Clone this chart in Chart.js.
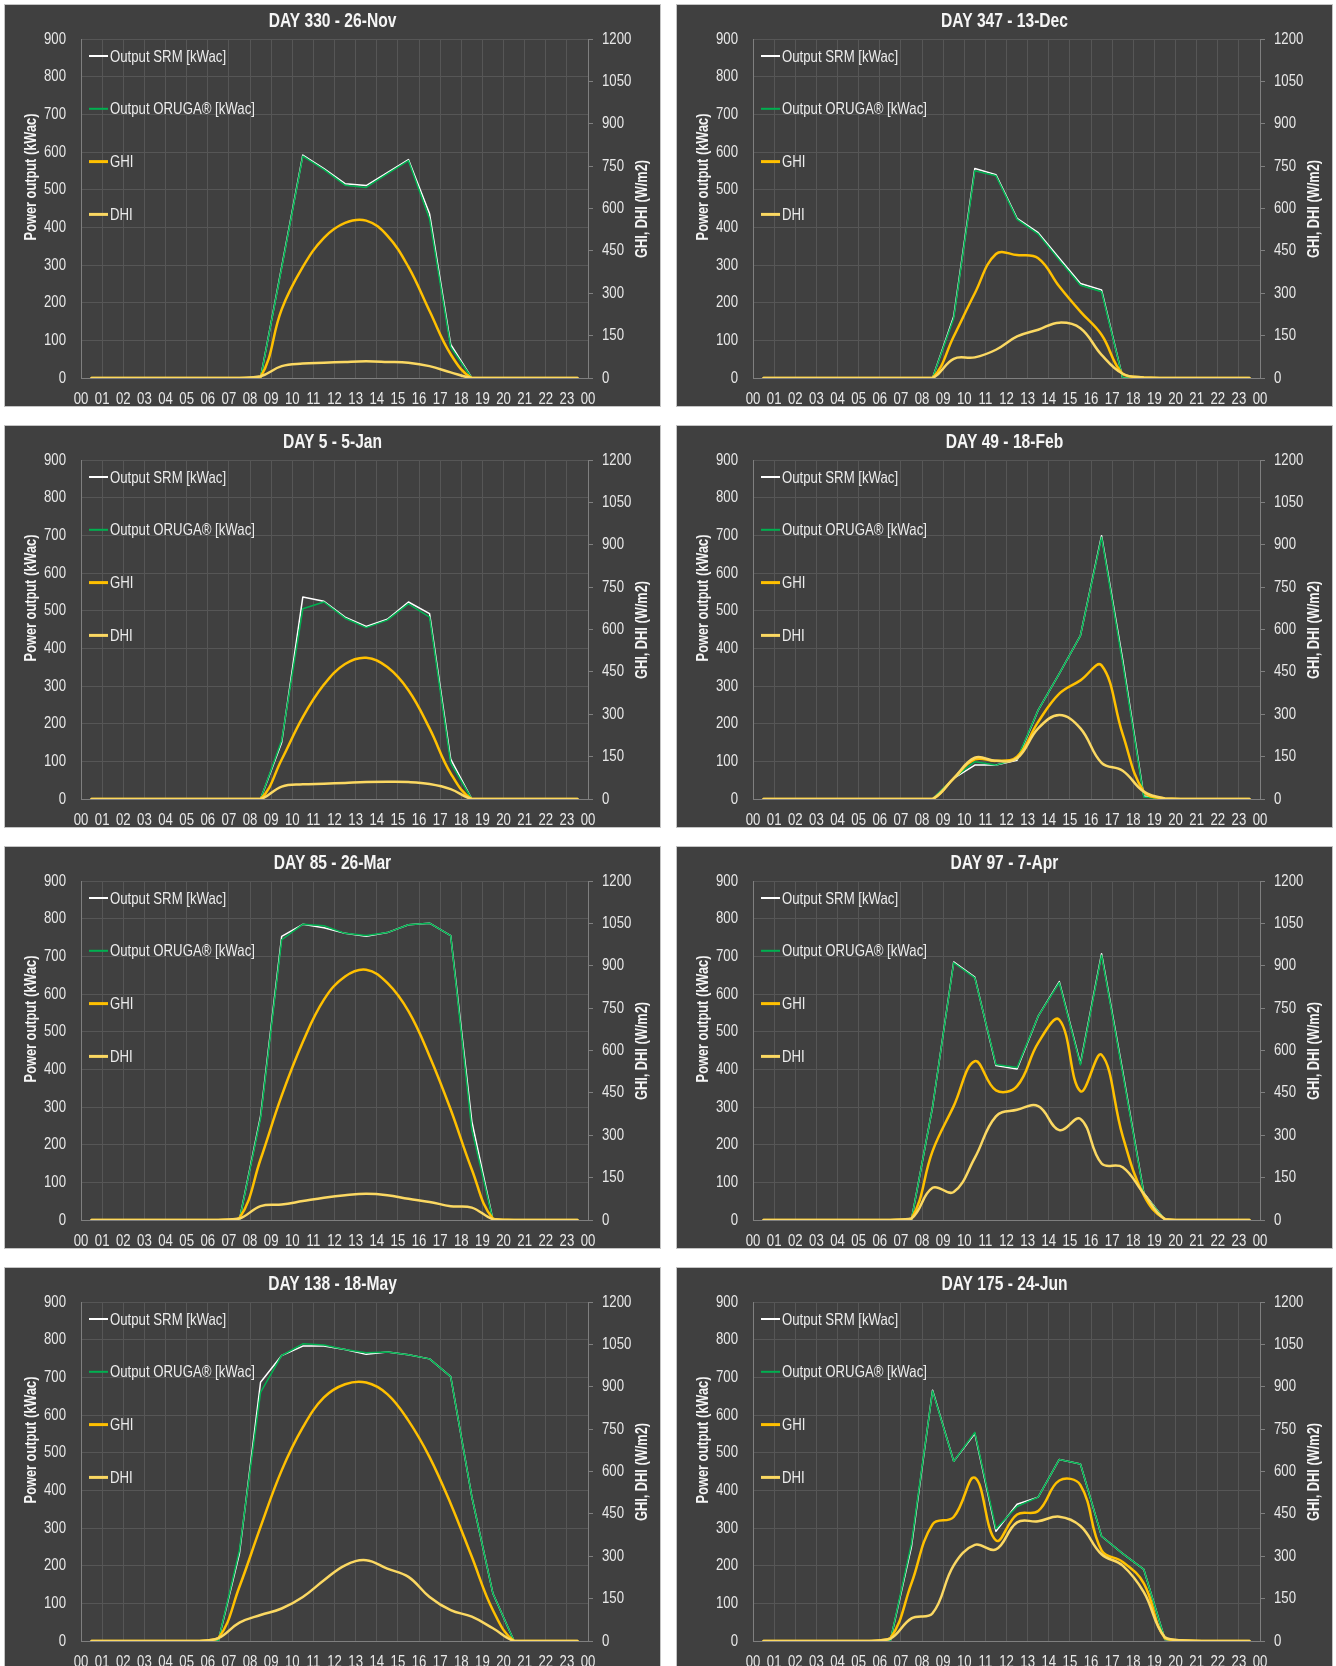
<!DOCTYPE html>
<html>
<head>
<meta charset="utf-8">
<title>Daily output SRM vs ORUGA</title>
<script src="https://cdn.jsdelivr.net/npm/chart.js@4.4.1/dist/chart.umd.min.js"></script>
<style>
  html, body { margin: 0; padding: 0; background: #ffffff; }
  body { width: 1336px; height: 1666px; overflow: hidden; position: relative; }
  .panel {
    position: absolute;
    width: 655px;
    height: 401px;
    border: 1px solid #c4c4c4;
    background: #404040;
  }
  .panel canvas { display: block; }
</style>
</head>
<body>
<script>
/* =========================================================
   DATA (hourly values, one point per hour at half past)
========================================================= */
const hourMid = [0.5, 1.5, 2.5, 3.5, 4.5, 5.5, 6.5, 7.5, 8.5, 9.5, 10.5, 11.5,
                 12.5, 13.5, 14.5, 15.5, 16.5, 17.5, 18.5, 19.5, 20.5, 21.5, 22.5, 23.5];
const hourLabels = ["00", "01", "02", "03", "04", "05", "06", "07", "08", "09", "10", "11", "12",
                    "13", "14", "15", "16", "17", "18", "19", "20", "21", "22", "23", "00"];
const powerTicks = [0, 100, 200, 300, 400, 500, 600, 700, 800, 900];
const irrTicks = [0, 150, 300, 450, 600, 750, 900, 1050, 1200];
const seriesNames = ["Output SRM [kWac]", "Output ORUGA® [kWac]", "GHI", "DHI"];

// DAY 330 - 26-Nov
const srm330   = [0, 0, 0, 0, 0, 0, 0, 0, 0, 295, 592, 556, 516, 511, 545, 580, 436, 89, 0, 0, 0, 0, 0, 0];
const oruga330 = [0, 0, 0, 0, 0, 0, 0, 0, 0, 292, 589, 553, 512, 506, 542, 577, 422, 82, 0, 0, 0, 0, 0, 0];
const ghi330   = [0, 0, 0, 0, 0, 0, 0, 0, 4, 243, 393, 496, 549, 557, 504, 393, 237, 84, 0, 0, 0, 0, 0, 0];
const dhi330   = [0, 0, 0, 0, 0, 0, 0, 0, 6, 42, 51, 54, 57, 59, 57, 54, 42, 20, 0, 0, 0, 0, 0, 0];

// DAY 347 - 13-Dec
const srm347   = [0, 0, 0, 0, 0, 0, 0, 0, 0, 163, 556, 540, 424, 386, 318, 251, 234, 0, 0, 0, 0, 0, 0, 0];
const oruga347 = [0, 0, 0, 0, 0, 0, 0, 0, 0, 158, 550, 537, 421, 382, 313, 246, 229, 0, 0, 0, 0, 0, 0, 0];
const ghi347   = [0, 0, 0, 0, 0, 0, 0, 0, 0, 147, 300, 439, 435, 424, 324, 235, 153, 15, 2, 0, 0, 0, 0, 0];
const dhi347   = [0, 0, 0, 0, 0, 0, 0, 0, 0, 68, 73, 100, 147, 171, 196, 176, 82, 15, 2, 0, 0, 0, 0, 0];

// DAY 5 - 5-Jan
const srm5   = [0, 0, 0, 0, 0, 0, 0, 0, 0, 150, 536, 525, 483, 458, 477, 523, 492, 106, 0, 0, 0, 0, 0, 0];
const oruga5 = [0, 0, 0, 0, 0, 0, 0, 0, 0, 156, 505, 523, 480, 455, 475, 518, 483, 95, 0, 0, 0, 0, 0, 0];
const ghi5   = [0, 0, 0, 0, 0, 0, 0, 0, 0, 140, 290, 405, 478, 500, 467, 385, 250, 91, 0, 0, 0, 0, 0, 0];
const dhi5   = [0, 0, 0, 0, 0, 0, 0, 0, 0, 44, 52, 54, 57, 60, 61, 60, 53, 35, 0, 0, 0, 0, 0, 0];

// DAY 49 - 18-Feb
const srm49   = [0, 0, 0, 0, 0, 0, 0, 0, 0, 55, 90, 90, 103, 236, 333, 434, 699, 370, 8, 0, 0, 0, 0, 0];
const oruga49 = [0, 0, 0, 0, 0, 0, 0, 0, 0, 55, 99, 90, 106, 236, 333, 434, 695, 360, 5, 0, 0, 0, 0, 0];
const ghi49   = [0, 0, 0, 0, 0, 0, 0, 0, 0, 73, 140, 135, 150, 273, 373, 420, 473, 230, 26, 2, 0, 0, 0, 0];
const dhi49   = [0, 0, 0, 0, 0, 0, 0, 0, 0, 73, 146, 135, 144, 250, 297, 250, 128, 100, 26, 2, 0, 0, 0, 0];

// DAY 85 - 26-Mar
const srm85   = [0, 0, 0, 0, 0, 0, 0, 0, 276, 753, 785, 776, 761, 753, 763, 784, 788, 755, 262, 0, 0, 0, 0, 0];
const oruga85 = [0, 0, 0, 0, 0, 0, 0, 0, 270, 744, 785, 781, 761, 755, 763, 784, 788, 755, 240, 0, 0, 0, 0, 0];
const ghi85   = [0, 0, 0, 0, 0, 0, 0, 7, 215, 440, 630, 780, 862, 886, 839, 739, 580, 391, 179, 5, 0, 0, 0, 0];
const dhi85   = [0, 0, 0, 0, 0, 0, 0, 5, 49, 55, 67, 79, 88, 93, 88, 75, 64, 49, 44, 3, 0, 0, 0, 0];

// DAY 97 - 7-Apr
const srm97   = [0, 0, 0, 0, 0, 0, 0, 0, 300, 685, 645, 410, 401, 541, 633, 415, 707, 395, 72, 0, 0, 0, 0, 0];
const oruga97 = [0, 0, 0, 0, 0, 0, 0, 0, 300, 683, 643, 413, 405, 541, 630, 412, 703, 390, 70, 0, 0, 0, 0, 0];
const ghi97   = [0, 0, 0, 0, 0, 0, 0, 5, 244, 403, 562, 459, 474, 627, 709, 456, 585, 297, 88, 3, 0, 0, 0, 0];
const dhi97   = [0, 0, 0, 0, 0, 0, 0, 5, 114, 99, 220, 367, 390, 403, 318, 358, 200, 187, 93, 3, 0, 0, 0, 0];

// DAY 138 - 18-May
const srm138   = [0, 0, 0, 0, 0, 0, 0, 232, 687, 758, 783, 783, 774, 761, 767, 760, 749, 702, 383, 126, 0, 0, 0, 0];
const oruga138 = [0, 0, 0, 0, 0, 0, 0, 241, 660, 758, 789, 786, 774, 765, 767, 760, 749, 702, 383, 126, 0, 0, 0, 0];
const ghi138   = [0, 0, 0, 0, 0, 0, 10, 192, 404, 604, 756, 862, 909, 915, 874, 780, 651, 486, 298, 109, 0, 0, 0, 0];
const dhi138   = [0, 0, 0, 0, 0, 0, 10, 65, 92, 115, 156, 215, 268, 286, 256, 227, 156, 109, 86, 45, 0, 0, 0, 0];

// DAY 175 - 24-Jun
const srm175   = [0, 0, 0, 0, 0, 0, 0, 250, 666, 477, 551, 291, 363, 382, 482, 470, 278, 232, 190, 4, 0, 0, 0, 0];
const oruga175 = [0, 0, 0, 0, 0, 0, 0, 259, 664, 477, 554, 298, 357, 382, 482, 470, 278, 232, 190, 4, 0, 0, 0, 0];
const ghi175   = [0, 0, 0, 0, 0, 0, 10, 204, 413, 439, 578, 356, 448, 460, 568, 552, 321, 280, 204, 10, 2, 0, 0, 0];
const dhi175   = [0, 0, 0, 0, 0, 0, 8, 80, 98, 268, 340, 324, 420, 424, 440, 407, 307, 267, 173, 13, 2, 0, 0, 0];

const panels = [
    { title: "DAY 330 - 26-Nov", srm: srm330, oruga: oruga330, ghi: ghi330, dhi: dhi330 },
    { title: "DAY 347 - 13-Dec", srm: srm347, oruga: oruga347, ghi: ghi347, dhi: dhi347 },
    { title: "DAY 5 - 5-Jan",    srm: srm5,   oruga: oruga5,   ghi: ghi5,   dhi: dhi5 },
    { title: "DAY 49 - 18-Feb",  srm: srm49,  oruga: oruga49,  ghi: ghi49,  dhi: dhi49 },
    { title: "DAY 85 - 26-Mar",  srm: srm85,  oruga: oruga85,  ghi: ghi85,  dhi: dhi85 },
    { title: "DAY 97 - 7-Apr",   srm: srm97,  oruga: oruga97,  ghi: ghi97,  dhi: dhi97 },
    { title: "DAY 138 - 18-May", srm: srm138, oruga: oruga138, ghi: ghi138, dhi: dhi138 },
    { title: "DAY 175 - 24-Jun", srm: srm175, oruga: oruga175, ghi: ghi175, dhi: dhi175 }
];


/* =========================================================
   LOOK
========================================================= */
// no narrow font installed: Liberation Sans squeezed sideways ~ Arial Narrow
const FONT = "'Liberation Sans', Arial, sans-serif";
const SQUEEZE = 0.8;
const colSRM = "#ffffff";
const colORUGA = "#00b050";
const colGHI = "#ffc000";
const colDHI = "#fbd862";
const colGrid = "#565656";
const colAxis = "#7f7f7f";
const colText = "#e8e8e8";

Chart.defaults.font.family = FONT;
Chart.defaults.color = colText;

function narrowText(c, text, x, y, align) {
    c.save();
    c.translate(x, y);
    c.scale(SQUEEZE, 1);
    c.textAlign = align;
    c.fillText(text, 0, 0);
    c.restore();
}

// title, tick labels, axis titles and the in-plot legend
const panelDecor = {
    id: "panelDecor",
    afterDraw(chart, args, opts) {
        const c = chart.ctx;
        const xS = chart.scales.x, yS = chart.scales.y, y2S = chart.scales.y2;
        c.save();
        c.textBaseline = "middle";

        c.fillStyle = "#f5f5f5";
        c.font = "bold 19.5px " + FONT;
        narrowText(c, opts.title, chart.width / 2, 17, "center");

        c.fillStyle = colText;
        c.font = "16.5px " + FONT;
        powerTicks.forEach(v => narrowText(c, String(v), 61, yS.getPixelForValue(v), "right"));
        irrTicks.forEach(v => narrowText(c, String(v), 597, y2S.getPixelForValue(v), "left"));
        hourLabels.forEach((t, i) => narrowText(c, t, xS.getPixelForValue(i), 394, "center"));

        c.fillStyle = "#f5f5f5";
        c.font = "bold 16px " + FONT;
        c.save();
        c.translate(27, 172);
        c.rotate(-Math.PI / 2);
        narrowText(c, "Power output (kWac)", 0, 0, "center");
        c.restore();
        c.save();
        c.translate(638, 204);
        c.rotate(-Math.PI / 2);
        narrowText(c, "GHI, DHI (W/m2)", 0, 0, "center");
        c.restore();

        // legend
        c.font = "16.5px " + FONT;
        chart.data.datasets.forEach((ds, i) => {
            const y = 51 + i * 52.8;
            c.strokeStyle = ds.borderColor;
            c.lineWidth = ds.borderWidth + 0.5;
            c.beginPath();
            c.moveTo(84, y);
            c.lineTo(103, y);
            c.stroke();
            c.fillStyle = "#ececec";
            narrowText(c, ds.label, 105, y + 1, "left");
        });
        c.restore();
    }
};


/* =========================================================
   PANELS
========================================================= */
const panelLeft = [4, 676];
const panelTop = [4, 425, 846, 1267];

panels.forEach((p, n) => {
    const box = document.createElement("div");
    box.className = "panel";
    box.style.left = panelLeft[n % 2] + "px";
    box.style.top = panelTop[Math.floor(n / 2)] + "px";
    const canvas = document.createElement("canvas");
    canvas.width = 655;
    canvas.height = 401;
    box.appendChild(canvas);
    document.body.appendChild(box);

    new Chart(canvas, {
        type: "line",
        data: {
            labels: hourMid,
            datasets: [
                { label: seriesNames[0], data: p.srm, yAxisID: "y", borderColor: colSRM, borderWidth: 1.5, tension: 0, order: 4 },
                { label: seriesNames[1], data: p.oruga, yAxisID: "y", borderColor: colORUGA, borderWidth: 1.5, tension: 0, order: 3 },
                { label: seriesNames[2], data: p.ghi, yAxisID: "y2", borderColor: colGHI, borderWidth: 2.5, tension: 0.4, order: 2 },
                { label: seriesNames[3], data: p.dhi, yAxisID: "y2", borderColor: colDHI, borderWidth: 2.5, tension: 0.4, order: 1 }
            ]
        },
        options: {
            responsive: false,
            animation: false,
            devicePixelRatio: 1,
            layout: { padding: { top: 34, left: 0, right: 0, bottom: 0 } },
            elements: { point: { radius: 0 }, line: { borderCapStyle: "round", borderJoinStyle: "round" } },
            plugins: {
                legend: { display: false },
                title: { display: false },
                tooltip: { enabled: false },
                panelDecor: { title: p.title }
            },
            scales: {
                x: {
                    type: "linear",
                    min: 0,
                    max: 24,
                    afterBuildTicks: s => { s.ticks = hourLabels.map((t, i) => ({ value: i })); },
                    ticks: { display: false },
                    grid: { color: colGrid, drawTicks: false },
                    border: { color: colAxis },
                    afterFit: s => { s.height = 28; }
                },
                y: {
                    position: "left",
                    min: 0,
                    max: 900,
                    afterBuildTicks: s => { s.ticks = powerTicks.map(v => ({ value: v })); },
                    ticks: { display: false },
                    grid: { color: colGrid, drawTicks: false },
                    border: { color: colAxis },
                    afterFit: s => { s.width = 76; }
                },
                y2: {
                    position: "right",
                    min: 0,
                    max: 1200,
                    afterBuildTicks: s => { s.ticks = irrTicks.map(v => ({ value: v })); },
                    ticks: { display: false },
                    grid: { drawOnChartArea: false, tickLength: 5, tickColor: colAxis },
                    border: { color: colAxis },
                    afterFit: s => { s.width = 72; }
                }
            }
        },
        plugins: [panelDecor]
    });
});
</script>
</body>
</html>
